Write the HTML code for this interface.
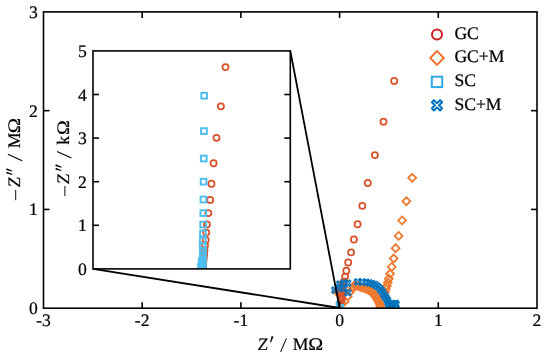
<!DOCTYPE html>
<html><head><meta charset="utf-8"><style>
html,body{margin:0;padding:0;background:#fff;width:550px;height:356px;overflow:hidden}
svg{display:block;will-change:transform}
text{font-family:"Liberation Serif",serif;fill:#000;stroke:#000;stroke-width:0.22px;text-rendering:geometricPrecision}
</style></head><body>
<svg width="550" height="356" viewBox="0 0 550 356">
<defs><clipPath id="cm"><rect x="43.5" y="11.9" width="493.5" height="296.3"/></clipPath></defs><g clip-path="url(#cm)">
<path d="M336.50 287.55L340.45 291.50L336.50 295.45L332.55 291.50Z" fill="none" stroke="#EE7A30" stroke-width="1.8" stroke-linejoin="miter"/>
<path d="M342.00 299.55L345.95 303.50L342.00 307.45L338.05 303.50Z" fill="none" stroke="#EE7A30" stroke-width="1.8" stroke-linejoin="miter"/>
<path d="M344.70 297.45L348.65 301.40L344.70 305.35L340.75 301.40Z" fill="none" stroke="#EE7A30" stroke-width="1.8" stroke-linejoin="miter"/>
<path d="M347.80 292.45L351.75 296.40L347.80 300.35L343.85 296.40Z" fill="none" stroke="#EE7A30" stroke-width="1.8" stroke-linejoin="miter"/>
<path d="M350.20 287.85L354.15 291.80L350.20 295.75L346.25 291.80Z" fill="none" stroke="#EE7A30" stroke-width="1.8" stroke-linejoin="miter"/>
<path d="M352.70 284.05L356.65 288.00L352.70 291.95L348.75 288.00Z" fill="none" stroke="#EE7A30" stroke-width="1.8" stroke-linejoin="miter"/>
<path d="M343.00 278.55L346.95 282.50L343.00 286.45L339.05 282.50Z" fill="none" stroke="#EE7A30" stroke-width="1.8" stroke-linejoin="miter"/>
<path d="M354.50 281.35L358.45 285.30L354.50 289.25L350.55 285.30Z" fill="none" stroke="#EE7A30" stroke-width="1.8" stroke-linejoin="miter"/>
<path d="M356.57 281.89L360.52 285.84L356.57 289.79L352.62 285.84Z" fill="none" stroke="#EE7A30" stroke-width="1.8" stroke-linejoin="miter"/>
<path d="M358.64 282.43L362.59 286.38L358.64 290.33L354.69 286.38Z" fill="none" stroke="#EE7A30" stroke-width="1.8" stroke-linejoin="miter"/>
<path d="M360.69 283.01L364.64 286.96L360.69 290.91L356.74 286.96Z" fill="none" stroke="#EE7A30" stroke-width="1.8" stroke-linejoin="miter"/>
<path d="M362.74 283.62L366.69 287.57L362.74 291.52L358.79 287.57Z" fill="none" stroke="#EE7A30" stroke-width="1.8" stroke-linejoin="miter"/>
<path d="M364.76 284.32L368.71 288.27L364.76 292.22L360.81 288.27Z" fill="none" stroke="#EE7A30" stroke-width="1.8" stroke-linejoin="miter"/>
<path d="M366.76 285.08L370.71 289.03L366.76 292.98L362.81 289.03Z" fill="none" stroke="#EE7A30" stroke-width="1.8" stroke-linejoin="miter"/>
<path d="M368.68 285.98L372.63 289.93L368.68 293.88L364.73 289.93Z" fill="none" stroke="#EE7A30" stroke-width="1.8" stroke-linejoin="miter"/>
<path d="M370.50 287.11L374.45 291.06L370.50 295.01L366.55 291.06Z" fill="none" stroke="#EE7A30" stroke-width="1.8" stroke-linejoin="miter"/>
<path d="M372.22 288.34L376.17 292.29L372.22 296.24L368.27 292.29Z" fill="none" stroke="#EE7A30" stroke-width="1.8" stroke-linejoin="miter"/>
<path d="M373.54 290.02L377.49 293.97L373.54 297.92L369.59 293.97Z" fill="none" stroke="#EE7A30" stroke-width="1.8" stroke-linejoin="miter"/>
<path d="M374.85 291.71L378.80 295.66L374.85 299.61L370.90 295.66Z" fill="none" stroke="#EE7A30" stroke-width="1.8" stroke-linejoin="miter"/>
<path d="M376.12 293.42L380.07 297.37L376.12 301.32L372.17 297.37Z" fill="none" stroke="#EE7A30" stroke-width="1.8" stroke-linejoin="miter"/>
<path d="M377.22 295.25L381.17 299.20L377.22 303.15L373.27 299.20Z" fill="none" stroke="#EE7A30" stroke-width="1.8" stroke-linejoin="miter"/>
<path d="M378.32 297.09L382.27 301.04L378.32 304.99L374.37 301.04Z" fill="none" stroke="#EE7A30" stroke-width="1.8" stroke-linejoin="miter"/>
<path d="M379.26 299.00L383.21 302.95L379.26 306.90L375.31 302.95Z" fill="none" stroke="#EE7A30" stroke-width="1.8" stroke-linejoin="miter"/>
<path d="M380.15 300.95L384.10 304.90L380.15 308.85L376.20 304.90Z" fill="none" stroke="#EE7A30" stroke-width="1.8" stroke-linejoin="miter"/>
<path d="M380.50 303.05L384.45 307.00L380.50 310.95L376.55 307.00Z" fill="none" stroke="#EE7A30" stroke-width="1.8" stroke-linejoin="miter"/>
<path d="M385.00 288.05L388.95 292.00L385.00 295.95L381.05 292.00Z" fill="none" stroke="#EE7A30" stroke-width="1.8" stroke-linejoin="miter"/>
<path d="M385.80 284.95L389.75 288.90L385.80 292.85L381.85 288.90Z" fill="none" stroke="#EE7A30" stroke-width="1.8" stroke-linejoin="miter"/>
<path d="M386.80 282.05L390.75 286.00L386.80 289.95L382.85 286.00Z" fill="none" stroke="#EE7A30" stroke-width="1.8" stroke-linejoin="miter"/>
<path d="M387.80 278.65L391.75 282.60L387.80 286.55L383.85 282.60Z" fill="none" stroke="#EE7A30" stroke-width="1.8" stroke-linejoin="miter"/>
<path d="M388.80 274.75L392.75 278.70L388.80 282.65L384.85 278.70Z" fill="none" stroke="#EE7A30" stroke-width="1.8" stroke-linejoin="miter"/>
<path d="M390.10 269.85L394.05 273.80L390.10 277.75L386.15 273.80Z" fill="none" stroke="#EE7A30" stroke-width="1.8" stroke-linejoin="miter"/>
<path d="M391.70 262.95L395.65 266.90L391.70 270.85L387.75 266.90Z" fill="none" stroke="#EE7A30" stroke-width="1.8" stroke-linejoin="miter"/>
<path d="M393.70 254.55L397.65 258.50L393.70 262.45L389.75 258.50Z" fill="none" stroke="#EE7A30" stroke-width="1.8" stroke-linejoin="miter"/>
<path d="M395.60 244.25L399.55 248.20L395.60 252.15L391.65 248.20Z" fill="none" stroke="#EE7A30" stroke-width="1.8" stroke-linejoin="miter"/>
<path d="M398.60 231.95L402.55 235.90L398.60 239.85L394.65 235.90Z" fill="none" stroke="#EE7A30" stroke-width="1.8" stroke-linejoin="miter"/>
<path d="M402.10 216.45L406.05 220.40L402.10 224.35L398.15 220.40Z" fill="none" stroke="#EE7A30" stroke-width="1.8" stroke-linejoin="miter"/>
<path d="M406.40 197.25L410.35 201.20L406.40 205.15L402.45 201.20Z" fill="none" stroke="#EE7A30" stroke-width="1.8" stroke-linejoin="miter"/>
<path d="M412.20 173.85L416.15 177.80L412.20 181.75L408.25 177.80Z" fill="none" stroke="#EE7A30" stroke-width="1.8" stroke-linejoin="miter"/>
<rect x="336.85" y="301.75" width="5.70" height="5.70" fill="none" stroke="#4DBEEE" stroke-width="1.95"/>
<rect x="337.05" y="302.55" width="5.70" height="5.70" fill="none" stroke="#4DBEEE" stroke-width="1.95"/>
<rect x="336.65" y="303.35" width="5.70" height="5.70" fill="none" stroke="#4DBEEE" stroke-width="1.95"/>
<rect x="337.25" y="303.15" width="5.70" height="5.70" fill="none" stroke="#4DBEEE" stroke-width="1.95"/>
<circle cx="394.17" cy="80.90" r="3.05" fill="none" stroke="#D9502A" stroke-width="1.75"/>
<circle cx="383.50" cy="121.70" r="3.05" fill="none" stroke="#D9502A" stroke-width="1.75"/>
<circle cx="374.90" cy="155.10" r="3.05" fill="none" stroke="#D9502A" stroke-width="1.75"/>
<circle cx="367.80" cy="183.00" r="3.05" fill="none" stroke="#D9502A" stroke-width="1.75"/>
<circle cx="362.30" cy="205.80" r="3.05" fill="none" stroke="#D9502A" stroke-width="1.75"/>
<circle cx="357.60" cy="224.20" r="3.05" fill="none" stroke="#D9502A" stroke-width="1.75"/>
<circle cx="353.90" cy="239.50" r="3.05" fill="none" stroke="#D9502A" stroke-width="1.75"/>
<circle cx="351.10" cy="252.40" r="3.05" fill="none" stroke="#D9502A" stroke-width="1.75"/>
<circle cx="348.20" cy="262.50" r="3.05" fill="none" stroke="#D9502A" stroke-width="1.75"/>
<circle cx="346.30" cy="270.70" r="3.05" fill="none" stroke="#D9502A" stroke-width="1.75"/>
<circle cx="345.10" cy="276.60" r="3.05" fill="none" stroke="#D9502A" stroke-width="1.75"/>
<circle cx="344.07" cy="281.62" r="3.05" fill="none" stroke="#D9502A" stroke-width="1.75"/>
<circle cx="342.46" cy="285.84" r="3.05" fill="none" stroke="#D9502A" stroke-width="1.75"/>
<circle cx="342.01" cy="289.39" r="3.05" fill="none" stroke="#D9502A" stroke-width="1.75"/>
<circle cx="341.67" cy="292.37" r="3.05" fill="none" stroke="#D9502A" stroke-width="1.75"/>
<circle cx="341.58" cy="294.87" r="3.05" fill="none" stroke="#D9502A" stroke-width="1.75"/>
<circle cx="341.55" cy="296.97" r="3.05" fill="none" stroke="#D9502A" stroke-width="1.75"/>
<circle cx="341.52" cy="298.73" r="3.05" fill="none" stroke="#D9502A" stroke-width="1.75"/>
<circle cx="341.50" cy="300.22" r="3.05" fill="none" stroke="#D9502A" stroke-width="1.75"/>
<path d="M332.89 293.38L331.62 292.11L333.53 290.20L331.62 288.29L332.89 287.02L334.80 288.93L336.71 287.02L337.98 288.29L336.07 290.20L337.98 292.11L336.71 293.38L334.80 291.47Z" fill="none" stroke="#0072BD" stroke-width="1.35" stroke-linejoin="round"/>
<path d="M336.59 290.98L335.32 289.71L337.23 287.80L335.32 285.89L336.59 284.62L338.50 286.53L340.41 284.62L341.68 285.89L339.77 287.80L341.68 289.71L340.41 290.98L338.50 289.07Z" fill="none" stroke="#0072BD" stroke-width="1.35" stroke-linejoin="round"/>
<path d="M337.79 287.28L336.52 286.01L338.43 284.10L336.52 282.19L337.79 280.92L339.70 282.83L341.61 280.92L342.88 282.19L340.97 284.10L342.88 286.01L341.61 287.28L339.70 285.37Z" fill="none" stroke="#0072BD" stroke-width="1.35" stroke-linejoin="round"/>
<path d="M342.09 286.18L340.82 284.91L342.73 283.00L340.82 281.09L342.09 279.82L344.00 281.73L345.91 279.82L347.18 281.09L345.27 283.00L347.18 284.91L345.91 286.18L344.00 284.27Z" fill="none" stroke="#0072BD" stroke-width="1.35" stroke-linejoin="round"/>
<path d="M345.69 286.38L344.42 285.11L346.33 283.20L344.42 281.29L345.69 280.02L347.60 281.93L349.51 280.02L350.78 281.29L348.87 283.20L350.78 285.11L349.51 286.38L347.60 284.47Z" fill="none" stroke="#0072BD" stroke-width="1.35" stroke-linejoin="round"/>
<path d="M342.19 291.58L340.92 290.31L342.83 288.40L340.92 286.49L342.19 285.22L344.10 287.13L346.01 285.22L347.28 286.49L345.37 288.40L347.28 290.31L346.01 291.58L344.10 289.67Z" fill="none" stroke="#0072BD" stroke-width="1.35" stroke-linejoin="round"/>
<path d="M345.89 295.88L344.62 294.61L346.53 292.70L344.62 290.79L345.89 289.52L347.80 291.43L349.71 289.52L350.98 290.79L349.07 292.70L350.98 294.61L349.71 295.88L347.80 293.97Z" fill="none" stroke="#0072BD" stroke-width="1.35" stroke-linejoin="round"/>
<path d="M355.69 285.08L354.42 283.81L356.33 281.90L354.42 279.99L355.69 278.72L357.60 280.63L359.51 278.72L360.78 279.99L358.87 281.90L360.78 283.81L359.51 285.08L357.60 283.17Z" fill="none" stroke="#0072BD" stroke-width="1.35" stroke-linejoin="round"/>
<path d="M360.56 285.07L359.29 283.79L361.20 281.89L359.29 279.98L360.56 278.70L362.47 280.61L364.38 278.70L365.65 279.98L363.74 281.89L365.65 283.79L364.38 285.07L362.47 283.16Z" fill="none" stroke="#0072BD" stroke-width="1.35" stroke-linejoin="round"/>
<path d="M364.15 285.38L362.88 284.11L364.79 282.20L362.88 280.29L364.15 279.01L366.06 280.92L367.97 279.01L369.24 280.29L367.33 282.20L369.24 284.11L367.97 285.38L366.06 283.47Z" fill="none" stroke="#0072BD" stroke-width="1.35" stroke-linejoin="round"/>
<path d="M367.34 286.03L366.07 284.76L367.98 282.85L366.07 280.94L367.34 279.66L369.25 281.57L371.16 279.66L372.43 280.94L370.52 282.85L372.43 284.76L371.16 286.03L369.25 284.12Z" fill="none" stroke="#0072BD" stroke-width="1.35" stroke-linejoin="round"/>
<path d="M370.27 286.83L368.99 285.56L370.90 283.65L368.99 281.74L370.27 280.47L372.18 282.38L374.09 280.47L375.36 281.74L373.45 283.65L375.36 285.56L374.09 286.83L372.18 284.92Z" fill="none" stroke="#0072BD" stroke-width="1.35" stroke-linejoin="round"/>
<path d="M373.00 287.73L371.73 286.45L373.64 284.54L371.73 282.63L373.00 281.36L374.91 283.27L376.82 281.36L378.09 282.63L376.18 284.54L378.09 286.45L376.82 287.73L374.91 285.82Z" fill="none" stroke="#0072BD" stroke-width="1.35" stroke-linejoin="round"/>
<path d="M375.29 289.29L374.02 288.02L375.93 286.11L374.02 284.20L375.29 282.93L377.20 284.84L379.11 282.93L380.38 284.20L378.47 286.11L380.38 288.02L379.11 289.29L377.20 287.38Z" fill="none" stroke="#0072BD" stroke-width="1.35" stroke-linejoin="round"/>
<path d="M377.28 291.05L376.01 289.77L377.92 287.86L376.01 285.96L377.28 284.68L379.19 286.59L381.10 284.68L382.37 285.96L380.46 287.86L382.37 289.77L381.10 291.05L379.19 289.14Z" fill="none" stroke="#0072BD" stroke-width="1.35" stroke-linejoin="round"/>
<path d="M378.91 293.08L377.64 291.81L379.55 289.90L377.64 287.99L378.91 286.72L380.82 288.63L382.73 286.72L384.00 287.99L382.09 289.90L384.00 291.81L382.73 293.08L380.82 291.17Z" fill="none" stroke="#0072BD" stroke-width="1.35" stroke-linejoin="round"/>
<path d="M380.40 295.14L379.13 293.86L381.04 291.95L379.13 290.05L380.40 288.77L382.31 290.68L384.22 288.77L385.49 290.05L383.58 291.95L385.49 293.86L384.22 295.14L382.31 293.23Z" fill="none" stroke="#0072BD" stroke-width="1.35" stroke-linejoin="round"/>
<path d="M381.74 297.23L380.47 295.96L382.38 294.05L380.47 292.14L381.74 290.87L383.65 292.78L385.56 290.87L386.83 292.14L384.92 294.05L386.83 295.96L385.56 297.23L383.65 295.32Z" fill="none" stroke="#0072BD" stroke-width="1.35" stroke-linejoin="round"/>
<path d="M383.05 299.29L381.78 298.01L383.69 296.10L381.78 294.20L383.05 292.92L384.96 294.83L386.87 292.92L388.14 294.20L386.23 296.10L388.14 298.01L386.87 299.29L384.96 297.38Z" fill="none" stroke="#0072BD" stroke-width="1.35" stroke-linejoin="round"/>
<path d="M384.25 301.36L382.98 300.09L384.88 298.18L382.98 296.27L384.25 294.99L386.16 296.90L388.07 294.99L389.34 296.27L387.43 298.18L389.34 300.09L388.07 301.36L386.16 299.45Z" fill="none" stroke="#0072BD" stroke-width="1.35" stroke-linejoin="round"/>
<path d="M385.43 303.40L384.15 302.12L386.06 300.21L384.15 298.31L385.43 297.03L387.33 298.94L389.24 297.03L390.52 298.31L388.61 300.21L390.52 302.12L389.24 303.40L387.33 301.49Z" fill="none" stroke="#0072BD" stroke-width="1.35" stroke-linejoin="round"/>
<path d="M386.29 305.54L385.02 304.27L386.93 302.36L385.02 300.45L386.29 299.18L388.20 301.09L390.11 299.18L391.38 300.45L389.47 302.36L391.38 304.27L390.11 305.54L388.20 303.63Z" fill="none" stroke="#0072BD" stroke-width="1.35" stroke-linejoin="round"/>
<path d="M387.09 307.68L385.82 306.41L387.73 304.50L385.82 302.59L387.09 301.32L389.00 303.23L390.91 301.32L392.18 302.59L390.27 304.50L392.18 306.41L390.91 307.68L389.00 305.77Z" fill="none" stroke="#0072BD" stroke-width="1.35" stroke-linejoin="round"/>
<path d="M389.59 307.68L388.32 306.41L390.23 304.50L388.32 302.59L389.59 301.32L391.50 303.23L393.41 301.32L394.68 302.59L392.77 304.50L394.68 306.41L393.41 307.68L391.50 305.77Z" fill="none" stroke="#0072BD" stroke-width="1.35" stroke-linejoin="round"/>
<path d="M391.59 306.98L390.32 305.71L392.23 303.80L390.32 301.89L391.59 300.62L393.50 302.53L395.41 300.62L396.68 301.89L394.77 303.80L396.68 305.71L395.41 306.98L393.50 305.07Z" fill="none" stroke="#0072BD" stroke-width="1.35" stroke-linejoin="round"/>
<path d="M393.59 306.48L392.32 305.21L394.23 303.30L392.32 301.39L393.59 300.12L395.50 302.03L397.41 300.12L398.68 301.39L396.77 303.30L398.68 305.21L397.41 306.48L395.50 304.57Z" fill="none" stroke="#0072BD" stroke-width="1.35" stroke-linejoin="round"/>
<path d="M394.09 307.68L392.82 306.41L394.73 304.50L392.82 302.59L394.09 301.32L396.00 303.23L397.91 301.32L399.18 302.59L397.27 304.50L399.18 306.41L397.91 307.68L396.00 305.77Z" fill="none" stroke="#0072BD" stroke-width="1.35" stroke-linejoin="round"/>
<path d="M388.09 309.18L386.82 307.91L388.73 306.00L386.82 304.09L388.09 302.82L390.00 304.73L391.91 302.82L393.18 304.09L391.27 306.00L393.18 307.91L391.91 309.18L390.00 307.27Z" fill="none" stroke="#0072BD" stroke-width="1.35" stroke-linejoin="round"/>
<path d="M386.59 309.68L385.32 308.41L387.23 306.50L385.32 304.59L386.59 303.32L388.50 305.23L390.41 303.32L391.68 304.59L389.77 306.50L391.68 308.41L390.41 309.68L388.50 307.77Z" fill="none" stroke="#0072BD" stroke-width="1.35" stroke-linejoin="round"/>
</g>
<rect x="43.5" y="11.9" width="493.5" height="296.3" fill="none" stroke="#000" stroke-width="1.6"/>
<line x1="142.20" y1="308.2" x2="142.20" y2="302.2" stroke="#000" stroke-width="1.6"/>
<line x1="142.20" y1="11.9" x2="142.20" y2="17.9" stroke="#000" stroke-width="1.6"/>
<line x1="240.90" y1="308.2" x2="240.90" y2="302.2" stroke="#000" stroke-width="1.6"/>
<line x1="240.90" y1="11.9" x2="240.90" y2="17.9" stroke="#000" stroke-width="1.6"/>
<line x1="339.60" y1="308.2" x2="339.60" y2="302.2" stroke="#000" stroke-width="1.6"/>
<line x1="339.60" y1="11.9" x2="339.60" y2="17.9" stroke="#000" stroke-width="1.6"/>
<line x1="438.30" y1="308.2" x2="438.30" y2="302.2" stroke="#000" stroke-width="1.6"/>
<line x1="438.30" y1="11.9" x2="438.30" y2="17.9" stroke="#000" stroke-width="1.6"/>
<line x1="43.5" y1="209.43" x2="49.5" y2="209.43" stroke="#000" stroke-width="1.6"/>
<line x1="537.0" y1="209.43" x2="531.0" y2="209.43" stroke="#000" stroke-width="1.6"/>
<line x1="43.5" y1="110.67" x2="49.5" y2="110.67" stroke="#000" stroke-width="1.6"/>
<line x1="537.0" y1="110.67" x2="531.0" y2="110.67" stroke="#000" stroke-width="1.6"/>
<rect x="93.0" y="50.9" width="197.3" height="217.99999999999997" fill="#fff"/>
<defs><clipPath id="ci"><rect x="93.0" y="50.9" width="197.3" height="217.99999999999997"/></clipPath></defs><g clip-path="url(#ci)">
<circle cx="225.50" cy="67.10" r="3.05" fill="none" stroke="#D9502A" stroke-width="1.75"/>
<circle cx="220.90" cy="106.30" r="3.05" fill="none" stroke="#D9502A" stroke-width="1.75"/>
<circle cx="216.50" cy="137.80" r="3.05" fill="none" stroke="#D9502A" stroke-width="1.75"/>
<circle cx="213.60" cy="163.20" r="3.05" fill="none" stroke="#D9502A" stroke-width="1.75"/>
<circle cx="211.50" cy="183.70" r="3.05" fill="none" stroke="#D9502A" stroke-width="1.75"/>
<circle cx="210.20" cy="199.90" r="3.05" fill="none" stroke="#D9502A" stroke-width="1.75"/>
<circle cx="208.30" cy="213.10" r="3.05" fill="none" stroke="#D9502A" stroke-width="1.75"/>
<circle cx="206.90" cy="224.40" r="3.05" fill="none" stroke="#D9502A" stroke-width="1.75"/>
<circle cx="206.30" cy="232.60" r="3.05" fill="none" stroke="#D9502A" stroke-width="1.75"/>
<circle cx="205.70" cy="239.90" r="3.05" fill="none" stroke="#D9502A" stroke-width="1.75"/>
<circle cx="205.00" cy="245.50" r="3.05" fill="none" stroke="#D9502A" stroke-width="1.75"/>
<circle cx="204.51" cy="250.18" r="3.05" fill="none" stroke="#D9502A" stroke-width="1.75"/>
<circle cx="204.12" cy="253.92" r="3.05" fill="none" stroke="#D9502A" stroke-width="1.75"/>
<circle cx="203.81" cy="256.92" r="3.05" fill="none" stroke="#D9502A" stroke-width="1.75"/>
<circle cx="203.55" cy="259.32" r="3.05" fill="none" stroke="#D9502A" stroke-width="1.75"/>
<circle cx="203.32" cy="261.23" r="3.05" fill="none" stroke="#D9502A" stroke-width="1.75"/>
<circle cx="203.14" cy="262.77" r="3.05" fill="none" stroke="#D9502A" stroke-width="1.75"/>
<circle cx="202.99" cy="263.99" r="3.05" fill="none" stroke="#D9502A" stroke-width="1.75"/>
<circle cx="202.87" cy="264.97" r="3.05" fill="none" stroke="#D9502A" stroke-width="1.75"/>
<circle cx="202.78" cy="265.76" r="3.05" fill="none" stroke="#D9502A" stroke-width="1.75"/>
<circle cx="202.70" cy="266.39" r="3.05" fill="none" stroke="#D9502A" stroke-width="1.75"/>
<circle cx="202.64" cy="266.89" r="3.05" fill="none" stroke="#D9502A" stroke-width="1.75"/>
<circle cx="202.59" cy="267.29" r="3.05" fill="none" stroke="#D9502A" stroke-width="1.75"/>
<circle cx="202.55" cy="267.61" r="3.05" fill="none" stroke="#D9502A" stroke-width="1.75"/>
<circle cx="202.52" cy="267.87" r="3.05" fill="none" stroke="#D9502A" stroke-width="1.75"/>
<circle cx="202.50" cy="268.08" r="3.05" fill="none" stroke="#D9502A" stroke-width="1.75"/>
<rect x="201.35" y="92.85" width="5.70" height="5.70" fill="none" stroke="#4DBEEE" stroke-width="1.95"/>
<rect x="201.10" y="128.25" width="5.70" height="5.70" fill="none" stroke="#4DBEEE" stroke-width="1.95"/>
<rect x="200.91" y="155.65" width="5.70" height="5.70" fill="none" stroke="#4DBEEE" stroke-width="1.95"/>
<rect x="200.75" y="178.85" width="5.70" height="5.70" fill="none" stroke="#4DBEEE" stroke-width="1.95"/>
<rect x="200.59" y="196.65" width="5.70" height="5.70" fill="none" stroke="#4DBEEE" stroke-width="1.95"/>
<rect x="200.46" y="210.25" width="5.70" height="5.70" fill="none" stroke="#4DBEEE" stroke-width="1.95"/>
<rect x="200.35" y="221.75" width="5.70" height="5.70" fill="none" stroke="#4DBEEE" stroke-width="1.95"/>
<rect x="200.12" y="230.55" width="5.70" height="5.70" fill="none" stroke="#4DBEEE" stroke-width="1.95"/>
<rect x="199.92" y="237.75" width="5.70" height="5.70" fill="none" stroke="#4DBEEE" stroke-width="1.95"/>
<rect x="199.77" y="243.35" width="5.70" height="5.70" fill="none" stroke="#4DBEEE" stroke-width="1.95"/>
<rect x="200.11" y="247.89" width="5.70" height="5.70" fill="none" stroke="#4DBEEE" stroke-width="1.95"/>
<rect x="199.98" y="251.52" width="5.70" height="5.70" fill="none" stroke="#4DBEEE" stroke-width="1.95"/>
<rect x="199.87" y="254.43" width="5.70" height="5.70" fill="none" stroke="#4DBEEE" stroke-width="1.95"/>
<rect x="199.79" y="256.75" width="5.70" height="5.70" fill="none" stroke="#4DBEEE" stroke-width="1.95"/>
<rect x="198.82" y="258.61" width="5.70" height="5.70" fill="none" stroke="#4DBEEE" stroke-width="1.95"/>
<rect x="199.67" y="260.10" width="5.70" height="5.70" fill="none" stroke="#4DBEEE" stroke-width="1.95"/>
<rect x="199.62" y="261.29" width="5.70" height="5.70" fill="none" stroke="#4DBEEE" stroke-width="1.95"/>
<rect x="198.69" y="262.24" width="5.70" height="5.70" fill="none" stroke="#4DBEEE" stroke-width="1.95"/>
<rect x="199.56" y="263.00" width="5.70" height="5.70" fill="none" stroke="#4DBEEE" stroke-width="1.95"/>
<rect x="199.54" y="263.61" width="5.70" height="5.70" fill="none" stroke="#4DBEEE" stroke-width="1.95"/>
<rect x="199.52" y="264.10" width="5.70" height="5.70" fill="none" stroke="#4DBEEE" stroke-width="1.95"/>
<rect x="198.61" y="264.49" width="5.70" height="5.70" fill="none" stroke="#4DBEEE" stroke-width="1.95"/>
<rect x="198.60" y="264.80" width="5.70" height="5.70" fill="none" stroke="#4DBEEE" stroke-width="1.95"/>
<rect x="198.59" y="265.05" width="5.70" height="5.70" fill="none" stroke="#4DBEEE" stroke-width="1.95"/>
</g>
<rect x="93.0" y="50.9" width="197.3" height="217.99999999999997" fill="none" stroke="#000" stroke-width="1.6"/>
<line x1="93.0" y1="225.30" x2="99.0" y2="225.30" stroke="#000" stroke-width="1.6"/>
<line x1="290.3" y1="225.30" x2="284.3" y2="225.30" stroke="#000" stroke-width="1.6"/>
<line x1="93.0" y1="181.70" x2="99.0" y2="181.70" stroke="#000" stroke-width="1.6"/>
<line x1="290.3" y1="181.70" x2="284.3" y2="181.70" stroke="#000" stroke-width="1.6"/>
<line x1="93.0" y1="138.10" x2="99.0" y2="138.10" stroke="#000" stroke-width="1.6"/>
<line x1="290.3" y1="138.10" x2="284.3" y2="138.10" stroke="#000" stroke-width="1.6"/>
<line x1="93.0" y1="94.50" x2="99.0" y2="94.50" stroke="#000" stroke-width="1.6"/>
<line x1="290.3" y1="94.50" x2="284.3" y2="94.50" stroke="#000" stroke-width="1.6"/>
<line x1="290.3" y1="50.9" x2="339.6" y2="308" stroke="#000" stroke-width="1.8"/>
<line x1="93.0" y1="268.9" x2="339.6" y2="308" stroke="#000" stroke-width="1.8"/>
<circle cx="437.00" cy="34.60" r="5.0" fill="none" stroke="#CC1E1E" stroke-width="2.0"/>
<path d="M437.00 51.20L443.80 58.00L437.00 64.80L430.20 58.00Z" fill="none" stroke="#EF6D28" stroke-width="1.9" stroke-linejoin="miter"/>
<rect x="431.80" y="76.70" width="10.40" height="10.40" fill="none" stroke="#2FAAE8" stroke-width="2.0"/>
<path d="M433.91 110.44L431.86 108.39L434.94 105.30L431.86 102.21L433.91 100.16L437.00 103.24L440.09 100.16L442.14 102.21L439.06 105.30L442.14 108.39L440.09 110.44L437.00 107.36Z" fill="none" stroke="#0072BD" stroke-width="2.0" stroke-linejoin="round"/>
<text x="454.40" y="38.90" text-anchor="start" font-size="17.6" >GC</text>
<text x="454.40" y="62.40" text-anchor="start" font-size="17.6" >GC+M</text>
<text x="454.40" y="86.20" text-anchor="start" font-size="17.6" >SC</text>
<text x="454.40" y="109.60" text-anchor="start" font-size="17.6" >SC+M</text>
<text x="43.50" y="326.00" text-anchor="middle" font-size="17.6" >-3</text>
<text x="142.20" y="326.00" text-anchor="middle" font-size="17.6" >-2</text>
<text x="240.90" y="326.00" text-anchor="middle" font-size="17.6" >-1</text>
<text x="339.60" y="326.00" text-anchor="middle" font-size="17.6" >0</text>
<text x="438.30" y="326.00" text-anchor="middle" font-size="17.6" >1</text>
<text x="537.00" y="326.00" text-anchor="middle" font-size="17.6" >2</text>
<text x="37.80" y="314.20" text-anchor="end" font-size="17.6" >0</text>
<text x="37.80" y="215.43" text-anchor="end" font-size="17.6" >1</text>
<text x="37.80" y="116.67" text-anchor="end" font-size="17.6" >2</text>
<text x="37.80" y="17.90" text-anchor="end" font-size="17.6" >3</text>
<text x="86.70" y="274.90" text-anchor="end" font-size="17.6" >0</text>
<text x="86.70" y="231.30" text-anchor="end" font-size="17.6" >1</text>
<text x="86.70" y="187.70" text-anchor="end" font-size="17.6" >2</text>
<text x="86.70" y="144.10" text-anchor="end" font-size="17.6" >3</text>
<text x="86.70" y="100.50" text-anchor="end" font-size="17.6" >4</text>
<text x="86.70" y="56.90" text-anchor="end" font-size="17.6" >5</text>
<text transform="translate(257.3,350.0) skewX(-5)" x="0" y="0" font-size="17.6">Z</text>
<path d="M270.97 342.47L273.49 336.72L271.71 336.08L270.03 342.13Z" fill="#000"/>
<line x1="280.6" y1="351.9" x2="286.5" y2="338.4" stroke="#000" stroke-width="1.05"/>
<text x="292.8" y="350.0" font-size="17.6">M</text>
<g transform="translate(309.3,350.0) scale(1.14,1)"><text x="-1" y="0" font-size="17.6">Ω</text></g>
<line x1="15.70" y1="200.2" x2="15.70" y2="189.8" stroke="#000" stroke-width="0.95"/>
<text transform="translate(20.2,187.70) rotate(-90) skewX(-5)" x="0" y="0" font-size="17.6">Z</text>
<path d="M12.36 174.03L6.69 171.65L6.11 173.35L12.04 174.97Z" fill="#000"/>
<path d="M12.36 170.63L6.69 168.25L6.11 169.95L12.04 171.57Z" fill="#000"/>
<line x1="22.20" y1="160.7" x2="7.90" y2="154.3" stroke="#000" stroke-width="1.05"/>
<text transform="translate(20.2,148.30) rotate(-90)" x="0" y="0" font-size="17.6">M</text>
<g transform="translate(20.2,132.20) rotate(-90) scale(1.17,1)"><text x="-1" y="0" font-size="17.6">Ω</text></g>
<line x1="64.90" y1="196.2" x2="64.90" y2="186.0" stroke="#000" stroke-width="0.95"/>
<text transform="translate(69.4,184.60) rotate(-90) skewX(-5)" x="0" y="0" font-size="17.6">Z</text>
<path d="M61.56 170.13L55.89 167.75L55.31 169.45L61.24 171.07Z" fill="#000"/>
<path d="M61.56 166.73L55.89 164.35L55.31 166.05L61.24 167.67Z" fill="#000"/>
<line x1="71.40" y1="158.0" x2="57.10" y2="151.4" stroke="#000" stroke-width="1.05"/>
<text transform="translate(69.4,144.65) rotate(-90)" x="0" y="0" font-size="17.6">k</text>
<g transform="translate(69.4,133.90) rotate(-90) scale(1.12,1)"><text x="-1" y="0" font-size="17.6">Ω</text></g>
</svg>
</body></html>
